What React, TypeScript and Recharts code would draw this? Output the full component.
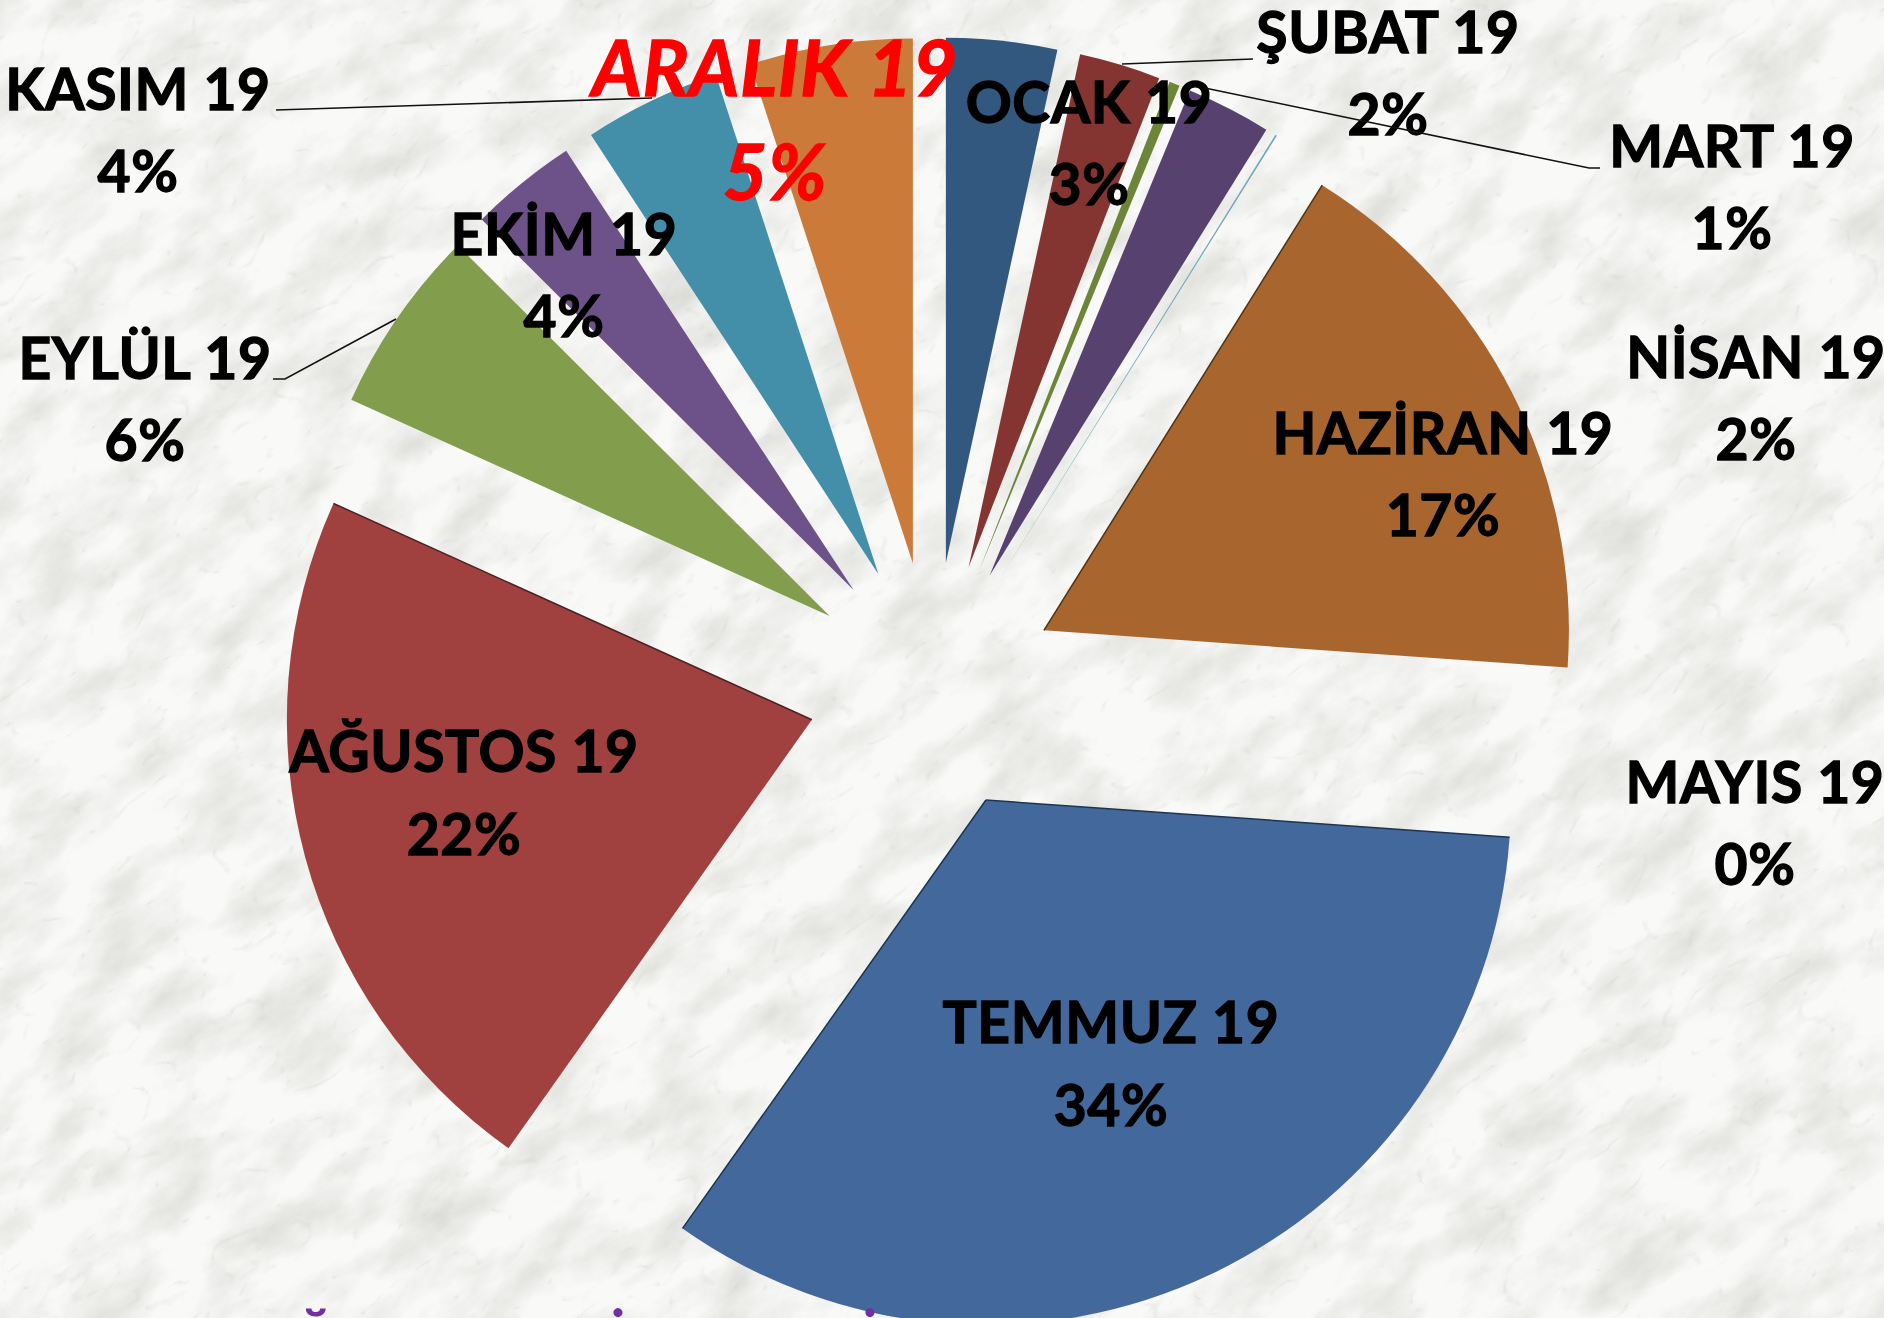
import { PieChart, Pie, Cell, Sector } from 'recharts'

const months = ['OCAK 19', 'ŞUBAT 19', 'MART 19', 'NİSAN 19', 'MAYIS 19', 'HAZİRAN 19', 'TEMMUZ 19', 'AĞUSTOS 19', 'EYLÜL 19', 'EKİM 19', 'KASIM 19', 'ARALIK 19']
const shares = [3.4, 2.5, 0.32, 2.6, 0.05, 17.2, 33.6, 21.9, 5.7, 3.3, 4.2, 5.0]
const percentLabels = ['3%', '2%', '1%', '2%', '0%', '17%', '34%', '22%', '6%', '4%', '4%', '5%']
const colors = ['#33587f', '#843532', '#6d8538', '#56416f', '#6fa8bc', '#a8652e', '#43699c', '#a04140', '#829e4c', '#6c5288', '#438ea8', '#cb7a39']

// label centre x, first baseline, second baseline
const labelPos = [
  [1089, 123, 205],
  [1388, 53, 135],
  [1732, 167, 249],
  [1756, 378, 460],
  [1755, 803, 885],
  [1443, 454, 536],
  [1111, 1043, 1126],
  [464, 772, 855],
  [145, 379, 461],
  [564, 255, 337],
  [138, 110, 192],
  [775, 96, 200],
]

const leaders: Record<number, string> = {
  1: '1253,59 1122,64',
  2: '1600,168 1589,168 1205,88',
  8: '273,379 285,379 396,319',
  10: '276,110 652,98',
}

// the big slices have a thin dark rim on some straight edges
const darkEdges: Record<number, { start?: string; end?: string }> = {
  5: { start: '#4f3216' },
  6: { start: '#1d3450', end: '#1d3450' },
  7: { end: '#4a2222' },
}

// tops of the title under the chart, the picture cuts the rest
const titleGlyphs = [
  { text: 'Ğ', left: 291 },
  { text: 'İ', left: 609 },
  { text: 'İ', left: 861 },
]

const WIDTH = 1884
const HEIGHT = 1318
const EXPLODE = 125
const RADIUS = 525
const RAD = Math.PI / 180

const data = months.map((name, i) => ({ name, value: shares[i], percentLabel: percentLabels[i] }))

const ExplodedSector = (props: any) => {
  const x = props.cx + EXPLODE * Math.cos(props.midAngle * RAD)
  const y = props.cy - EXPLODE * Math.sin(props.midAngle * RAD)
  const edges = darkEdges[props.index]
  const edgeLine = (angle: number, color?: string) =>
    color && (
      <line
        x1={x}
        y1={y}
        x2={x + RADIUS * Math.cos(angle * RAD)}
        y2={y - RADIUS * Math.sin(angle * RAD)}
        stroke={color}
        strokeWidth={1.5}
      />
    )
  return (
    <g>
      <Sector {...props} cx={x} cy={y} stroke="none" />
      {edges && edgeLine(props.startAngle, edges.start)}
      {edges && edgeLine(props.endAngle, edges.end)}
    </g>
  )
}

const renderLabel = ({ index }: any) => {
  const [x, y1, y2] = labelPos[index]
  const red = index === 11
  const style = red
    ? { fill: '#ff0000', stroke: '#ff0000', fontSize: 77, fontStyle: 'italic' as const }
    : { fill: '#000000', stroke: '#000000', fontSize: 57 }
  return (
    <g key={index} fontFamily="Lato" fontWeight={700} textAnchor="middle" strokeWidth={1.3} letterSpacing={0.6}>
      {leaders[index] && <polyline points={leaders[index]} fill="none" stroke="#111" strokeWidth={1.6} />}
      <text x={x} y={y1} {...style}>{months[index]}</text>
      <text x={x} y={y2} {...style}>{percentLabels[index]}</text>
    </g>
  )
}

export default function App() {
  return (
    <div style={{ position: 'absolute', left: 0, top: 0, width: WIDTH, height: HEIGHT, overflow: 'hidden', background: '#f7f7f5' }}>
      {/* marble backdrop */}
      <svg width={WIDTH} height={HEIGHT} style={{ position: 'absolute', left: 0, top: 0 }}>
        <defs>
          <filter id="clouds" x="0" y="0" width="100%" height="100%" colorInterpolationFilters="sRGB">
            <feTurbulence type="fractalNoise" baseFrequency="0.012 0.022" numOctaves={5} seed={11} />
            <feColorMatrix type="matrix" values="0 0 0 0 0.76  0 0 0 0 0.76  0 0 0 0 0.73  1.6 0 0 0 -0.62" />
          </filter>
          <filter id="veins" x="0" y="0" width="100%" height="100%" colorInterpolationFilters="sRGB">
            <feTurbulence type="turbulence" baseFrequency="0.012 0.022" numOctaves={3} seed={4} />
            <feColorMatrix type="matrix" values="0 0 0 0 0.74  0 0 0 0 0.74  0 0 0 0 0.71  -7 0 0 0 0.7" />
          </filter>
        </defs>
        <rect width={WIDTH} height={HEIGHT} fill="#f9f9f8" />
        <g transform="rotate(-38 942 659)">
          <rect x={-700} y={-900} width={3300} height={3100} filter="url(#clouds)" opacity={0.6} />
          <rect x={-700} y={-900} width={3300} height={3100} filter="url(#veins)" opacity={0.28} />
        </g>
      </svg>
      <div style={{ position: 'absolute', left: 0, top: 0 }}>
        <PieChart width={WIDTH} height={HEIGHT} margin={{ top: 0, right: 0, bottom: 0, left: 0 }}>
          <Pie
            data={data}
            dataKey="value"
            nameKey="name"
            cx={932.5}
            cy={687}
            outerRadius={RADIUS}
            startAngle={90}
            endAngle={-270}
            isAnimationActive={false}
            shape={ExplodedSector}
            label={renderLabel}
            labelLine={false}
            stroke="none"
          >
            {data.map((d, i) => <Cell key={d.name} fill={colors[i]} />)}
          </Pie>
        </PieChart>
      </div>
      {titleGlyphs.map(g => (
        <div
          key={g.left}
          style={{ position: 'absolute', left: g.left, top: 1304, fontFamily: 'Lato', fontWeight: 700, fontSize: 60, lineHeight: 1.2, color: '#7030a0' }}
        >
          {g.text}
        </div>
      ))}
    </div>
  )
}
